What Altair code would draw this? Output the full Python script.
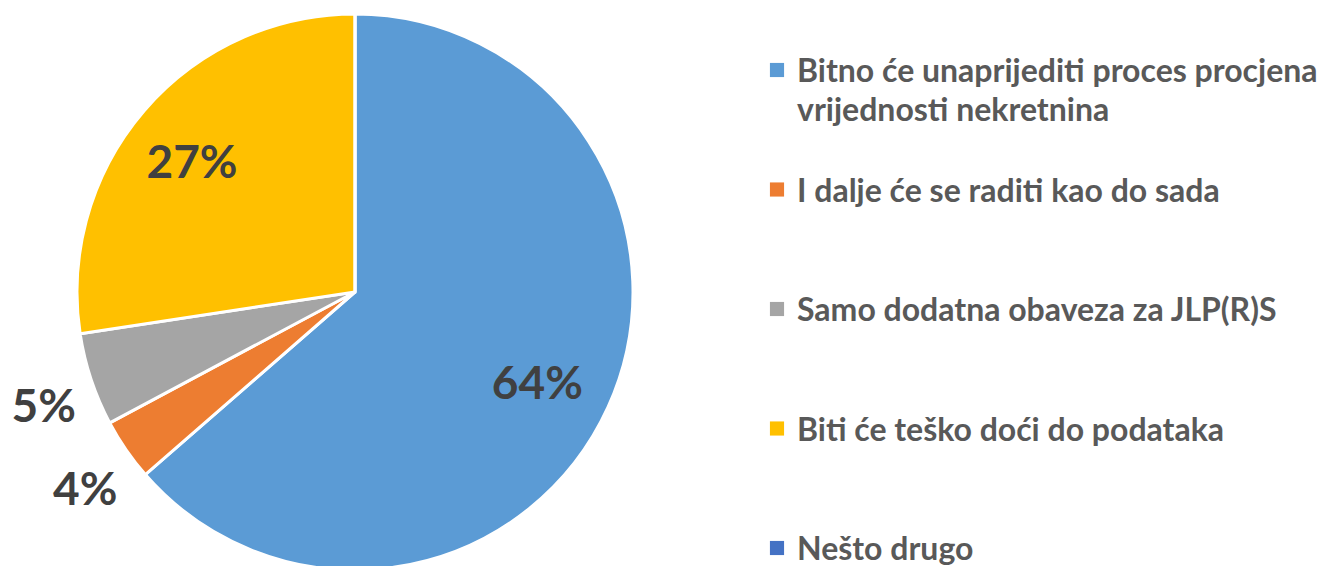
import altair as alt
import pandas as pd

categories = [
    "Bitno će unaprijediti proces procjena\nvrijednosti nekretnina",
    "I dalje će se raditi kao do sada",
    "Samo dodatna obaveza za JLP(R)S",
    "Biti će teško doći do podataka",
    "Nešto drugo",
]
values = [63.6, 3.6, 5.4, 27.4, 0.0]
colors = ["#5B9BD5", "#ED7D31", "#A5A5A5", "#FFC000", "#4472C4"]

df = pd.DataFrame({"cat": categories, "value": values, "idx": list(range(len(categories)))})

color_scale = alt.Scale(domain=categories, range=colors)
CX, CY, R = 347, 284, 278

base = alt.Chart(df).encode(
    theta=alt.Theta("value:Q", stack=True),
    order=alt.Order("idx:Q"),
)

arcs = base.mark_arc(outerRadius=R, stroke="white", strokeWidth=3).encode(
    color=alt.Color("cat:N", scale=color_scale, legend=None),
    x=alt.value(CX),
    y=alt.value(CY),
)

inner = base.transform_calculate(
    t="datum.value > 10 ? round(datum.value) + '%' : ''"
).mark_text(
    radius=207, dx=-6, dy=7, font="Lato", fontWeight="bold", fontSize=46, color="#404040"
).encode(text="t:N", x=alt.value(CX), y=alt.value(CY))

outer = base.transform_calculate(
    t="datum.value > 0 && datum.value <= 10 ? round(datum.value) + '%' : ''"
).mark_text(
    radius=330, dx=2, dy=12, font="Lato", fontWeight="bold", fontSize=46, color="#404040"
).encode(text="t:N", x=alt.value(CX), y=alt.value(CY))

ypos = alt.Y("cat:N", scale=alt.Scale(type="point", domain=categories, range=[62, 540], padding=0), axis=None)

leg_sq = alt.Chart(df).mark_square(size=200, opacity=1).encode(
    x=alt.value(769),
    y=ypos,
    color=alt.Color("cat:N", scale=color_scale, legend=None),
)

leg_tx = alt.Chart(df).mark_text(
    align="left", baseline="alphabetic", dy=12, lineBreak="\n", lineHeight=39,
    font="Lato", fontWeight="bold", fontSize=32, color="#595959",
).encode(x=alt.value(789), y=ypos, text="cat:N")

chart = alt.layer(arcs, inner, outer, leg_sq, leg_tx).properties(
    width=1316, height=558, padding=0,
    autosize=alt.AutoSizeParams(type="none"),
).configure_view(stroke=None)

chart.save("out.html", embed_options={"renderer": "svg", "actions": False})
